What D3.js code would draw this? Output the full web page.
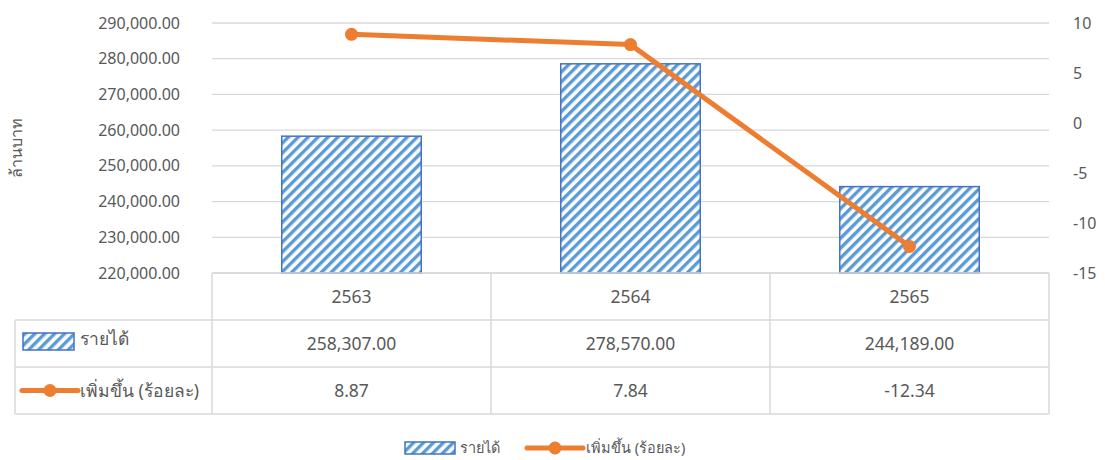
<!DOCTYPE html>
<html>
<head>
<meta charset="utf-8">
<script src="https://cdn.jsdelivr.net/npm/d3@7"></script>
<style>
  body { margin: 0; background: #fff; }
  text { font-family: "Noto Sans", "DejaVu Sans", sans-serif; fill: #595959; }
</style>
</head>
<body>
<div id="chart"></div>
<script>
// data
var years = ["2563", "2564", "2565"];
var revenue = [258307.00, 278570.00, 244189.00];
var growth = [8.87, 7.84, -12.34];
var seriesNames = ["รายได้", "เพิ่มขึ้น (ร้อยละ)"];
var yTitle = "ล้านบาท";

var svgWidth = 1105;
var svgHeight = 460;

var margin = { top: 23, left: 212, right: 56 };
var plotH = 250;
var width = svgWidth - margin.left - margin.right;

// plain hyphen for negatives, like the original
var locale = d3.formatLocale({ decimal: ".", thousands: ",", grouping: [3], currency: ["", ""], minus: "-" });
var fmt2 = locale.format(",.2f");
var fmtInt = locale.format("d");

var svg = d3.select("#chart")
  .append("svg")
  .attr("width", svgWidth)
  .attr("height", svgHeight);

// hatch pattern for bars
var defs = svg.append("defs");
defs.append("pattern")
  .attr("id", "hatch")
  .attr("patternUnits", "userSpaceOnUse")
  .attr("width", 7)
  .attr("height", 7)
  .attr("patternTransform", "rotate(45)")
  .call(p => {
    p.append("rect").attr("width", 7).attr("height", 7).attr("fill", "#fff");
    p.append("rect").attr("width", 3.4).attr("height", 7).attr("fill", "#5B9BD5");
  });

var chart = svg.append("g")
  .attr("transform", `translate(${margin.left}, ${margin.top})`);

var x = d3.scaleBand().domain(years).range([0, width]).paddingInner(0).paddingOuter(0);
var yL = d3.scaleLinear().domain([220000, 290000]).range([plotH, 0]);
var yR = d3.scaleLinear().domain([-15, 10]).range([plotH, 0]);

// gridlines
chart.append("g")
  .selectAll("line")
  .data(yL.ticks(7))
  .enter()
  .append("line")
  .attr("x1", 0)
  .attr("x2", width)
  .attr("y1", d => yL(d))
  .attr("y2", d => yL(d))
  .attr("stroke", "#d9d9d9")
  .attr("stroke-width", 1.3);

// left axis
var leftAxis = d3.axisLeft(yL).ticks(7).tickSize(0).tickPadding(32)
  .tickFormat(fmt2);
chart.append("g").call(leftAxis)
  .call(g => g.select(".domain").remove())
  .selectAll("text")
  .style("font-size", "16px")
  .attr("fill", "#595959");

// right axis
var rightAxis = d3.axisRight(yR).ticks(5).tickSize(0).tickPadding(24)
  .tickFormat(fmtInt);
chart.append("g")
  .attr("transform", `translate(${width}, 0)`)
  .call(rightAxis)
  .call(g => g.select(".domain").remove())
  .selectAll("text")
  .style("font-size", "16px")
  .attr("fill", "#595959");

// y title
svg.append("text")
  .attr("transform", "rotate(-90)")
  .attr("x", -148)
  .attr("y", 22)
  .attr("text-anchor", "middle")
  .style("font-size", "16px")
  .text(yTitle);

// bars
var barW = x.bandwidth() * 0.5;
chart.selectAll(".bar")
  .data(revenue)
  .enter()
  .append("rect")
  .attr("class", "bar")
  .attr("x", (d, i) => x(years[i]) + (x.bandwidth() - barW) / 2)
  .attr("y", d => yL(d))
  .attr("width", barW)
  .attr("height", d => plotH - yL(d))
  .attr("fill", "url(#hatch)")
  .attr("stroke", "#4472C4")
  .attr("stroke-width", 1.5);

// line
var line = d3.line()
  .x((d, i) => x(years[i]) + x.bandwidth() / 2)
  .y(d => yR(d));

chart.append("path")
  .datum(growth)
  .attr("d", line)
  .attr("fill", "none")
  .attr("stroke", "#ED7D31")
  .attr("stroke-width", 5)
  .attr("stroke-linejoin", "round");

chart.selectAll(".dot")
  .data(growth)
  .enter()
  .append("circle")
  .attr("class", "dot")
  .attr("cx", (d, i) => x(years[i]) + x.bandwidth() / 2)
  .attr("cy", d => yR(d))
  .attr("r", 6.5)
  .attr("fill", "#ED7D31");

// data table
var rowH = 47;
var tableLeft = 15 - margin.left;
var tbl = chart.append("g").attr("transform", `translate(0, ${plotH})`);
var gridColor = "#d9d9d9";

// horizontal lines
tbl.append("line").attr("x1", 0).attr("x2", width).attr("y1", 0).attr("y2", 0)
  .attr("stroke", gridColor).attr("stroke-width", 1.5);
[1, 2, 3].forEach(function(r) {
  tbl.append("line")
    .attr("x1", tableLeft).attr("x2", width)
    .attr("y1", r * rowH).attr("y2", r * rowH)
    .attr("stroke", gridColor).attr("stroke-width", 1.5);
});
// vertical lines
x.domain().concat(["end"]).forEach(function(c, i) {
  var xx = i < years.length ? x(c) : width;
  tbl.append("line")
    .attr("x1", xx).attr("x2", xx)
    .attr("y1", 0).attr("y2", 3 * rowH)
    .attr("stroke", gridColor).attr("stroke-width", 1.5);
});
tbl.append("line")
  .attr("x1", tableLeft).attr("x2", tableLeft)
  .attr("y1", rowH).attr("y2", 3 * rowH)
  .attr("stroke", gridColor).attr("stroke-width", 1.5);

// category labels
tbl.selectAll(".cat")
  .data(years)
  .enter()
  .append("text")
  .attr("x", d => x(d) + x.bandwidth() / 2)
  .attr("y", rowH / 2 + 6)
  .attr("text-anchor", "middle")
  .style("font-size", "17.5px")
  .text(d => d);

tbl.selectAll(".rev")
  .data(revenue)
  .enter()
  .append("text")
  .attr("x", (d, i) => x(years[i]) + x.bandwidth() / 2)
  .attr("y", rowH * 1.5 + 6)
  .attr("text-anchor", "middle")
  .style("font-size", "17.5px")
  .text(d => fmt2(d));

tbl.selectAll(".gr")
  .data(growth)
  .enter()
  .append("text")
  .attr("x", (d, i) => x(years[i]) + x.bandwidth() / 2)
  .attr("y", rowH * 2.5 + 6)
  .attr("text-anchor", "middle")
  .style("font-size", "17.5px")
  .text(d => locale.format(".2f")(d));

// legend keys inside table
function barKey(g, x0, yc, w, h) {
  g.append("rect")
    .attr("x", x0).attr("y", yc - h / 2)
    .attr("width", w).attr("height", h)
    .attr("fill", "url(#hatch)")
    .attr("stroke", "#4472C4")
    .attr("stroke-width", 1.5);
}
function lineKey(g, x0, yc, w) {
  g.append("line")
    .attr("x1", x0).attr("x2", x0 + w)
    .attr("y1", yc).attr("y2", yc)
    .attr("stroke", "#ED7D31").attr("stroke-width", 5)
    .attr("stroke-linecap", "round");
  g.append("circle")
    .attr("cx", x0 + w / 2).attr("cy", yc).attr("r", 6.5)
    .attr("fill", "#ED7D31");
}

barKey(tbl, tableLeft + 8, rowH * 1.5 - 2, 51, 17);
tbl.append("text")
  .attr("x", tableLeft + 65).attr("y", rowH * 1.5 + 1)
  .style("font-size", "17.5px")
  .text(seriesNames[0]);
lineKey(tbl, tableLeft + 7, rowH * 2.5, 56);
tbl.append("text")
  .attr("x", tableLeft + 65).attr("y", rowH * 2.5 + 6)
  .style("font-size", "17.5px")
  .text(seriesNames[1]);

// bottom legend
var legend = svg.append("g").attr("transform", "translate(0, 448)");
barKey(legend, 405, 0, 50, 12);
legend.append("text")
  .attr("x", 460).attr("y", 5)
  .style("font-size", "14.5px")
  .text(seriesNames[0]);
lineKey(legend, 527, 0, 56);
legend.append("text")
  .attr("x", 586).attr("y", 5)
  .style("font-size", "14.5px")
  .text(seriesNames[1]);
</script>
</body>
</html>
